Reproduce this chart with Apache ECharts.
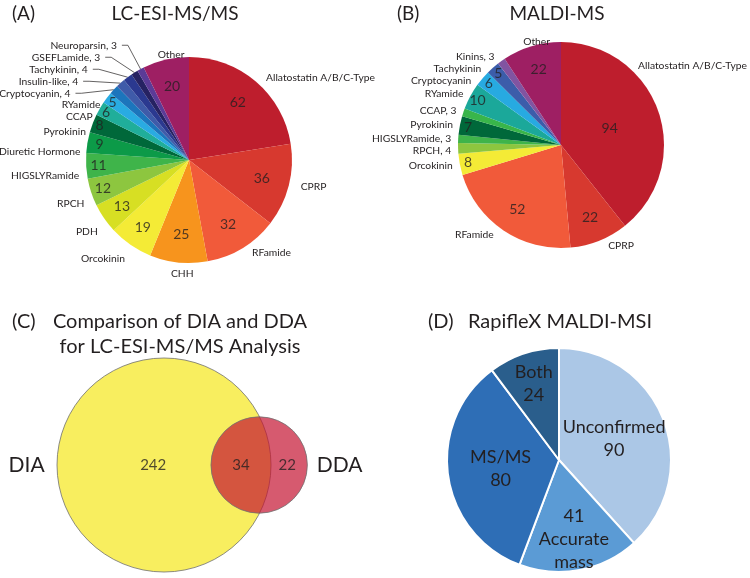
<!DOCTYPE html>
<html><head><meta charset="utf-8">
<script src="https://cdn.jsdelivr.net/npm/echarts@6/dist/echarts.min.js"></script>
<style>html,body{margin:0;padding:0;background:#fff}#c{width:750px;height:578px}</style>
</head><body><div id="c"></div>
<script>
// ---------- data ----------
const catA = ['Allatostatin A/B/C-Type','CPRP','RFamide','CHH','Orcokinin','PDH','RPCH','HIGSLYRamide','Diuretic Hormone','Pyrokinin','CCAP','RYamide','Cryptocyanin','Insulin-like','Tachykinin','GSEFLamide','Neuroparsin','Other'];
const valA = [62,36,32,25,19,13,12,11,9,8,6,5,4,4,4,3,3,20];
const colA = ['#BE1E2D','#D7392F','#F15A3A','#F7941D','#F4EB36','#D7DF23','#8DC63F','#3FB44A','#0C9A48','#00683A','#20AE9A','#29ABE2','#1C75BC','#3F5BA9','#2B3990','#262262','#5B3B97','#9E1F63'];

const catB = ['Allatostatin A/B/C-Type','CPRP','RFamide','Orcokinin','RPCH','HIGSLYRamide','Pyrokinin','CCAP','RYamide','Cryptocyanin','Tachykinin','Kinins','Other'];
const valB = [94,22,52,8,4,3,7,3,10,6,5,3,22];
const colB = ['#BE1E2D','#D7392F','#F15A3A','#F4EB36','#8DC63F','#3FB44A','#00683A','#39B54A','#1BA89A','#27AAE1','#3C5DAA','#8154A1','#9E1F63'];

const vennSets = ['DIA','DDA'];
const vennOnly = [242, 22];
const vennBoth = 34;

const catD = ['Unconfirmed','Accurate mass','MS/MS','Both'];
const valD = [90,41,80,24];
const colD = ['#ABC7E6','#5B9BD5','#2E6EB6','#2A5E8C'];

// ---------- style ----------
const FONT = 'Lato, "Open Sans", sans-serif';
const NAME_SIZE = 10.3;
const INK = '#231F20';
const CLEAR = 'rgba(0,0,0,0)';
const SMALL_MAX = 4;             // slices this small carry "name, value" outside labels
const ringA = [[20,0.73],[13,0.79],[9,0.88],[5,0.93]];   // value threshold -> label radius fraction
const ringB = [[80,0.5],[20,0.76],[5,0.92]];

function ringOf(rings, v) { for (const r of rings) if (v >= r[0]) return r[1]; return null; }

let chart;
const mctx = document.createElement('canvas').getContext('2d');
function textWidth(t, size) { mctx.font = size + 'px ' + FONT; return mctx.measureText(t).width; }

// small label adjustments: keep labels on the canvas, flip labels next to the
// vertical axis to start at their anchor, optional nudge of left-side labels
function nameLayout(center, R, opt) {
  return function (p) {
    const W = chart.getWidth();
    const r = p.labelRect;
    const tw = textWidth(p.text, NAME_SIZE);
    const cy = r.y + r.height/2;
    if (p.align !== 'right') {
      if (r.x + tw <= W - 2) return {};
      const right = W - 3, left = right - tw;
      const dx = Math.max(0, left - center[0]);
      const yTop = center[1] - Math.sqrt(Math.max(0, R*R - dx*dx));
      return {x: right, y: yTop - 6 - r.height/2, align:'right', verticalAlign:'middle'};
    }
    const xr = r.x + r.width;
    if (opt.flip && xr > center[0] - R*0.45) return {x: xr, y: cy + (cy > center[1] ? 6 : 0), align:'left', verticalAlign:'middle'};
    if (opt.dyLeft && cy > center[1] - R*0.75) return {dy: opt.dyLeft};
    return {};
  };
}

function pieWithNames(cats, vals, cols, center, R, opt) {
  const base = {type:'pie', center:center, startAngle:90, clockwise:true, silent:true,
    emphasis:{disabled:true}, animation:false, bleedMargin:0};
  const nameLabel = {show:true, position:'outside', color:INK, fontFamily:FONT, fontSize:NAME_SIZE, lineHeight:9,
    width:150, overflow:'none',
    formatter: p => p.value <= SMALL_MAX ? p.name + ', ' + p.value : p.name};
  const out = [
    Object.assign({}, base, {radius:[0,R], avoidLabelOverlap:false,
      data: cats.map((c,i)=>({name:c, value:vals[i], itemStyle:{color:cols[i]}})),
      label:{show:false}, labelLine:{show:false}})
  ];
  // one name-label layer per group; each group avoids overlaps on its own
  opt.groups.forEach(g => {
    out.push(Object.assign({}, base, {radius:[0,R], avoidLabelOverlap:true,
      labelLayout: nameLayout(center, R, g),
      data: cats.map((c,i)=>({name:c, value:vals[i], itemStyle:{color:CLEAR},
        label:{show: g.test(vals[i])}, labelLine:{show: g.test(vals[i]) && !!g.leader}})),
      label: nameLabel,
      labelLine:{length:g.length, length2:g.length2, lineStyle:{color:INK, width:0.7}}}));
  });
  return out;
}

function valueLabels(polarIndex, vals, rings) {
  const data = [];
  let cum = 0;
  vals.forEach(v => {
    const r = ringOf(rings, v);
    if (r != null) data.push({value:[r, cum + v/2], name:String(v)});
    cum += v;
  });
  return {type:'scatter', coordinateSystem:'polar', polarIndex:polarIndex, silent:true, animation:false,
    symbolSize:1, itemStyle:{color:CLEAR}, z:5, data:data,
    label:{show:true, position:'inside', formatter:'{b}', color:INK, fontFamily:FONT, fontSize:14}};
}

// ---------- Venn geometry (area-proportional) ----------
function lensArea(r1, r2, d) {
  if (d >= r1 + r2) return 0;
  if (d <= Math.abs(r1 - r2)) return Math.PI * Math.min(r1, r2) ** 2;
  const a1 = Math.acos((d*d + r1*r1 - r2*r2) / (2*d*r1));
  const a2 = Math.acos((d*d + r2*r2 - r1*r1) / (2*d*r2));
  const k = Math.sqrt((-d+r1+r2)*(d+r1-r2)*(d-r1+r2)*(d+r1+r2));
  return r1*r1*a1 + r2*r2*a2 - 0.5*k;
}
const totBig = vennOnly[0] + vennBoth, totSmall = vennOnly[1] + vennBoth;
const rBig = Math.sqrt(totBig/Math.PI), rSmall = Math.sqrt(totSmall/Math.PI);
let lo = Math.abs(rBig - rSmall), hi = rBig + rSmall;
for (let i = 0; i < 80; i++) { const m = (lo+hi)/2; if (lensArea(rBig, rSmall, m) > vennBoth) lo = m; else hi = m; }
const dist = (lo+hi)/2;
const VENN_R_PX = 107;
const pxu = VENN_R_PX / rBig;
const lensMid = ((dist - rSmall) + rBig) / 2;
const xOnlyBig = (0*totBig - lensMid*vennBoth) / vennOnly[0];
const xOnlySmall = (dist*totSmall - lensMid*vennBoth) / vennOnly[1];

// ---------- D labels ----------
const fmtD = p => p.name === 'Accurate mass' ? p.value + '\nAccurate\nmass' : p.name + '\n' + p.value;
function pieD(center, R) {
  const base = {type:'pie', center:center, startAngle:90, clockwise:true, silent:true,
    emphasis:{disabled:true}, animation:false, avoidLabelOverlap:false};
  const lab = {position:'inside', color:INK, fontFamily:FONT, fontSize:18, lineHeight:23, formatter:fmtD};
  return [
    Object.assign({}, base, {radius:[0,R],
      data: catD.map((c,i)=>({name:c, value:valD[i], itemStyle:{color:colD[i], borderColor:'#fff', borderWidth:2},
        label:{show: valD[i] >= 50}})),
      label:Object.assign({show:true}, lab), labelLine:{show:false}}),
    Object.assign({}, base, {radius:[R*0.38,R],
      data: catD.map((c,i)=>({name:c, value:valD[i], itemStyle:{color:CLEAR}, label:{show: valD[i] < 50}})),
      label:Object.assign({show:true}, lab), labelLine:{show:false}})
  ];
}

const titles = [
  {text:'(A)', x:12, y:14, align:'left', size:19},
  {text:'LC-ESI-MS/MS', x:175, y:14, align:'center', size:19},
  {text:'(B)', x:397, y:14, align:'left', size:19},
  {text:'MALDI-MS', x:557, y:14, align:'center', size:19},
  {text:'(C)', x:12, y:322, align:'left', size:20},
  {text:'Comparison of DIA and DDA', x:180, y:322, align:'center', size:20},
  {text:'for LC-ESI-MS/MS Analysis', x:180, y:347, align:'center', size:20},
  {text:'(D)', x:428, y:322, align:'left', size:20},
  {text:'RapifleX MALDI-MSI', x:560, y:322, align:'center', size:20}
];

const CA = [189,160], CB = [561,145], RA = 103, RB = 103;
const sum = a => a.reduce((s,v)=>s+v,0);

const series = [].concat(
  pieWithNames(catA, valA, colA, CA, RA, {groups:[
    {test: v => v <= SMALL_MAX, leader:true, length:27, length2:6},
    {test: v => v > SMALL_MAX, leader:false, length:5, length2:2, flip:true, dyLeft:10}
  ]}),
  pieWithNames(catB, valB, colB, CB, RB, {groups:[
    {test: v => true, leader:false, length:5, length2:2, flip:true}
  ]}),
  [valueLabels(0, valA, ringA), valueLabels(1, valB, ringB)],
  pieD([559,460], 112),
  [
    {type:'scatter', xAxisIndex:0, yAxisIndex:0, silent:true, clip:false, animation:false, z:2,
      data:[{name:vennSets[0], value:[0,0]}], symbol:'circle', symbolSize:2*rBig*pxu,
      itemStyle:{color:'#F8EE5F', borderColor:'#707070', borderWidth:0.8, opacity:1},
      label:{show:true, position:'left', distance:12, formatter:'{b}', color:INK, fontFamily:FONT, fontSize:21}},
    {type:'scatter', xAxisIndex:0, yAxisIndex:0, silent:true, clip:false, animation:false, z:3,
      data:[{name:vennSets[1], value:[dist,0]}], symbol:'circle', symbolSize:2*rSmall*pxu,
      itemStyle:{color:'rgba(196,20,50,0.7)', borderColor:'#707070', borderWidth:0.8, opacity:1},
      label:{show:true, position:'right', distance:9, formatter:'{b}', color:INK, fontFamily:FONT, fontSize:21}},
    {type:'scatter', xAxisIndex:0, yAxisIndex:0, silent:true, clip:false, animation:false, z:4,
      data:[{name:String(vennOnly[0]), value:[xOnlyBig,0]}, {name:String(vennBoth), value:[lensMid,0]}, {name:String(vennOnly[1]), value:[xOnlySmall,0]}],
      symbolSize:1, itemStyle:{color:CLEAR},
      label:{show:true, position:'inside', formatter:'{b}', color:INK, fontFamily:FONT, fontSize:15}}
  ]
);

chart = echarts.init(document.getElementById('c'));
chart.setOption({
  animation:false,
  backgroundColor:'#fff',
  polar:[{center:CA, radius:RA}, {center:CB, radius:RB}],
  angleAxis:[
    {polarIndex:0, type:'value', min:0, max:sum(valA), startAngle:90, clockwise:true, show:false},
    {polarIndex:1, type:'value', min:0, max:sum(valB), startAngle:90, clockwise:true, show:false}
  ],
  radiusAxis:[
    {polarIndex:0, type:'value', min:0, max:1, show:false},
    {polarIndex:1, type:'value', min:0, max:1, show:false}
  ],
  grid:[{left:57, top:358, width:(rBig+dist+rSmall)*pxu, height:2*rBig*pxu, containLabel:false}],
  xAxis:[{type:'value', min:-rBig, max:dist+rSmall, show:false}],
  yAxis:[{type:'value', min:-rBig, max:rBig, show:false}],
  graphic: titles.map(t => ({type:'text', x:t.x, y:t.y, silent:true,
    style:{text:t.text, fill:INK, font:t.size + 'px ' + FONT, textAlign:t.align, align:t.align,
      textVerticalAlign:'middle', verticalAlign:'middle'}})),
  series: series
});
</script></body></html>
